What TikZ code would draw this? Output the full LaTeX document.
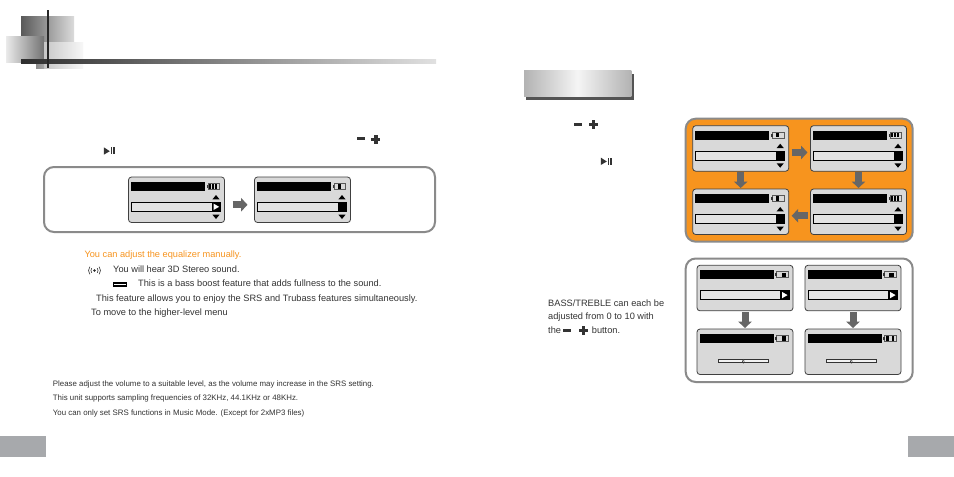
\documentclass[tikz,border=0pt]{standalone}
\usepackage{fontspec}
\setmainfont{Liberation Sans}
\usetikzlibrary{arrows.meta}
\definecolor{txtgray}{HTML}{333333}
\definecolor{tabgray}{HTML}{A7A9AC}
\definecolor{lcdgray}{HTML}{D9D9D9}
\definecolor{boxgray}{HTML}{8A8A8A}
\definecolor{arrowgray}{HTML}{666666}
\definecolor{panelorange}{HTML}{F7941E}
\tikzset{
lcd/.style={draw=black!75,fill=lcdgray,line width=0.8pt,rounded corners=3pt,inner sep=0pt,outer sep=0pt,minimum width=96pt,minimum height=45.5pt,anchor=north west},
lcdbar/.style={fill=black,inner sep=0pt,outer sep=0pt,minimum width=74pt,minimum height=9pt,anchor=north west},
lcdbatt/.style={draw=black!65,fill=lcdgray,line width=0.9pt,inner sep=0pt,outer sep=0pt,minimum width=11.5pt,minimum height=6.2pt,anchor=north west},
lcdrow/.style={draw=black,fill=black!11,line width=0.8pt,inner sep=0pt,outer sep=0pt,minimum width=89pt,minimum height=9pt,anchor=north west},
lcdend/.style={fill=black,inner sep=0pt,outer sep=0pt,minimum width=9pt,minimum height=9.6pt,anchor=north east},
slider/.style={draw=black!80,fill=black!5,line width=0.7pt,inner sep=0pt,outer sep=0pt,minimum width=49.5pt,minimum height=3pt},
panel/.style={draw=boxgray,line width=2pt,rounded corners=10pt,inner sep=0pt,outer sep=0pt,anchor=north west},
flow/.style={draw=arrowgray,line width=7pt,-{Triangle[length=6.5pt,width=13.5pt]}},
txt/.style={anchor=west,inner sep=0pt,text=txtgray,text height=7pt,text depth=0.6pt,font=\fontsize{9.23}{10}\selectfont},
small/.style={txt,text height=6pt,text depth=0.5pt,font=\fontsize{7.88}{8}\selectfont},
pagetab/.style={fill=tabgray,inner sep=0pt,outer sep=0pt,minimum width=46pt,minimum height=21pt,anchor=north west},
}
% screen: name, x, y, battery bars
\newcommand{\lcdscreen}[4]{
\node[lcd] (#1) at (#2,#3) {};
\node[lcdbar] (#1-bar) at ([shift={(2.7,5)}]#1.north west) {};
\node[lcdbatt] (#1-batt) at ([shift={(79.8,6.3)}]#1.north west) {};
\fill[black!80] ([shift={(-1.6,1.6)}]#1-batt.north west) rectangle ++(1.6,3);
\foreach \i in {#4}
\fill[black] ([shift={(\i*3-1.9,1)}]#1-batt.north west) rectangle ++(1.7,4.2);
}
% value row with the two small triangles
\newcommand{\lcdvalue}[1]{
\node[lcdrow] (#1-row) at ([shift={(2.9,25.3)}]#1.north west) {};
\node[lcdend] (#1-end) at ([shift={(0.4,-0.3)}]#1-row.north east) {};
\fill[black] ([shift={(87.5,18)}]#1.north west) -- ++(-3.6,4.4) -- ++(7.2,0) -- cycle;
\fill[black] ([shift={(87.5,42)}]#1.north west) -- ++(-3.6,-4.4) -- ++(7.2,0) -- cycle;
}
\newcommand{\lcdplay}[1]{
\node[lcdrow] (#1-row) at ([shift={(2.9,25.3)}]#1.north west) {};
\node[lcdend] (#1-end) at ([shift={(0.4,-0.3)}]#1-row.north east) {};
\fill[white] ([shift={(-2.8,0)}]#1-end.center) -- ++(0,-3.2) -- ++(5.6,3.2) -- ++(-5.6,3.2) -- cycle;
}
\newcommand{\lcdslider}[1]{
\node[slider] (#1-slider) at ([shift={(46.3,32.3)}]#1.north west) {};
\draw[black!80,fill=white,line width=0.5pt] (#1-slider.center) ++(-0.9,0) -- ++(0.9,-1.8) -- ++(0.9,1.8) -- ++(-0.9,1.8) -- cycle;
}
% the minus and plus keys: name, x, y, gap
\newcommand{\minusplus}[4]{
\node[fill=txtgray,inner sep=0pt,minimum width=8pt,minimum height=3pt] (#1-minus) at (#2,#3) {};
\node[inner sep=0pt,minimum size=9pt] (#1-plus) at ([xshift=#4pt,yshift=-0.5pt]#1-minus.center) {};
\fill[txtgray] ([shift={(-1.7,-4.5)}]#1-plus.center) rectangle ++(3.4,9);
\fill[txtgray] ([shift={(-4.5,-1.5)}]#1-plus.center) rectangle ++(9,3);
}
% the play and pause key: name, x, y
\newcommand{\playpause}[3]{
\node[inner sep=0pt,minimum width=11pt,minimum height=7pt] (#1) at (#2,#3) {};
\fill[txtgray] (#1.north west) -- (#1.south west) -- ++(6,-3.5) -- cycle;
\fill[txtgray] ([xshift=6.8pt]#1.north west) rectangle ++(1.5,7);
\fill[txtgray] ([xshift=9.4pt]#1.north west) rectangle ++(1.5,7);
}
\begin{document}
\begin{tikzpicture}[x=1pt,y=-1pt]
\useasboundingbox (0,0) rectangle (954,477);
\fill[white] (0,0) rectangle (954,477);
% header of the left page
\shade[left color=black!65,right color=black!14] (21,16) rectangle (74,44);
\shade[left color=black!8,right color=black!55] (6,36) rectangle (44,62);
\shade[left color=black!22,right color=black!3] (44,42) rectangle (83,68);
\shade[left color=black!45,right color=black!35] (36,62) rectangle (44,68);
\shade[left color=black!82,right color=black!12] (21,59) rectangle (436,63);
\fill[black!85] (47,10) rectangle (49,68);
% left page
\minusplus{topkeys}{361.3}{138.5}{14.5}
\playpause{topplay}{109.5}{151}
\node[panel,minimum width=391pt,minimum height=65pt] (eqpanel) at (44,167) {};
\lcdscreen{eqa}{128.5}{177}{1,2,3}
\lcdvalue{eqa}
\fill[white] ([shift={(-2.8,0)}]eqa-end.center) -- ++(0,-3.2) -- ++(5.6,3.2) -- ++(-5.6,3.2) -- cycle;
\lcdscreen{eqb}{254.5}{177}{1.7,2.2}
\lcdvalue{eqb}
\draw[flow,shorten <=8pt,shorten >=7pt] ([yshift=-5pt]eqa.east) -- ([yshift=-5pt]eqb.west);
\node[txt,text=panelorange] (adjust) at (84.3,254.7) {You can adjust the equalizer manually.};
\node[txt] (stereo) at (113,269.7) {You will hear 3D Stereo sound.};
\node[txt] (bass) at (138,283.7) {This is a bass boost feature that adds fullness to the sound.};
\node[txt] (both) at (96,298.7) {This feature allows you to enjoy the SRS and Trubass features simultaneously.};
\node[txt] (higher) at (91,312.7) {To move to the higher-level menu};
\fill[black!85] (94.5,270.5) circle (1.4);
\foreach \r in {3.6,6}{
\draw[black!80,line width=0.6pt] (94.5,270.5) ++(40:\r) arc (40:-40:\r);
\draw[black!80,line width=0.6pt] (94.5,270.5) ++(140:\r) arc (140:220:\r);
}
\node[draw=black,fill=white,line width=1.2pt,inner sep=0pt,minimum width=12.5pt,minimum height=3pt] (bassicon) at (120,284.5) {};
\node[small] (volume) at (52.7,384) {Please adjust the volume to a suitable level, as the volume may increase in the SRS setting.};
\node[small] (rates) at (52.7,398) {This unit supports sampling frequencies of 32KHz, 44.1KHz or 48KHz.};
\node[small] (mode) at (52.7,413) {You can only set SRS functions in Music Mode. (Except for 2xMP3 files)};
\node[pagetab] (lefttab) at (0,436) {};
% right page
\fill[black!67] (526,74) rectangle (634,100);
\shade[left color=black!30,right color=black!30,middle color=black!4] (524,70) rectangle (631.3,96);
\minusplus{rightkeys}{578.3}{124}{15}
\playpause{rightplay}{606.5}{161.3}
\node[panel,fill=panelorange,minimum width=227pt,minimum height=123pt] (orangepanel) at (685.7,118.7) {};
\lcdscreen{sa}{692.7}{125.7}{1.7,2.2}
\lcdvalue{sa}
\lcdscreen{sb}{810.5}{125.7}{1,2,3}
\lcdvalue{sb}
\lcdscreen{sc}{692.7}{189}{1.7,2.2}
\lcdvalue{sc}
\lcdscreen{sd}{810.5}{189}{1,2,3}
\lcdvalue{sd}
\draw[flow,shorten <=3pt,shorten >=3pt] ([yshift=-4pt]sa.east) -- ([yshift=-4pt]sb.west);
\draw[flow,shorten <=3pt,shorten >=3pt] ([yshift=-4pt]sd.west) -- ([yshift=-4pt]sc.east);
\draw[flow,shorten <=1pt,shorten >=1pt] (sa.south) -- (sc.north);
\draw[flow,shorten <=1pt,shorten >=1pt] (sb.south) -- (sd.north);
\node[panel,minimum width=227pt,minimum height=123.5pt] (basspanel) at (685.7,258.5) {};
\lcdscreen{ba}{697}{265.3}{2.4,2.9,3.2}
\lcdplay{ba}
\lcdscreen{bb}{805}{265.3}{2,2.6,3}
\lcdplay{bb}
\lcdscreen{bc}{697}{329}{2.4,2.9,3.2}
\lcdslider{bc}
\lcdscreen{bd}{805}{329}{1,1.5,3}
\lcdslider{bd}
\draw[flow,shorten <=1.5pt,shorten >=1pt] (ba.south) -- (bc.north);
\draw[flow,shorten <=1.5pt,shorten >=1pt] (bb.south) -- (bd.north);
\node[txt] (bassa) at (548,303.3) {BASS/TREBLE can each be};
\node[txt] (bassb) at (548,316.7) {adjusted from 0 to 10 with};
\node[txt] (bassc) at (548,330) {the};
\minusplus{basskeys}{567}{330}{16.5}
\node[txt] (bassd) at (591.7,330) {button.};
\node[pagetab] (righttab) at (908,436) {};
\end{tikzpicture}
\end{document}
